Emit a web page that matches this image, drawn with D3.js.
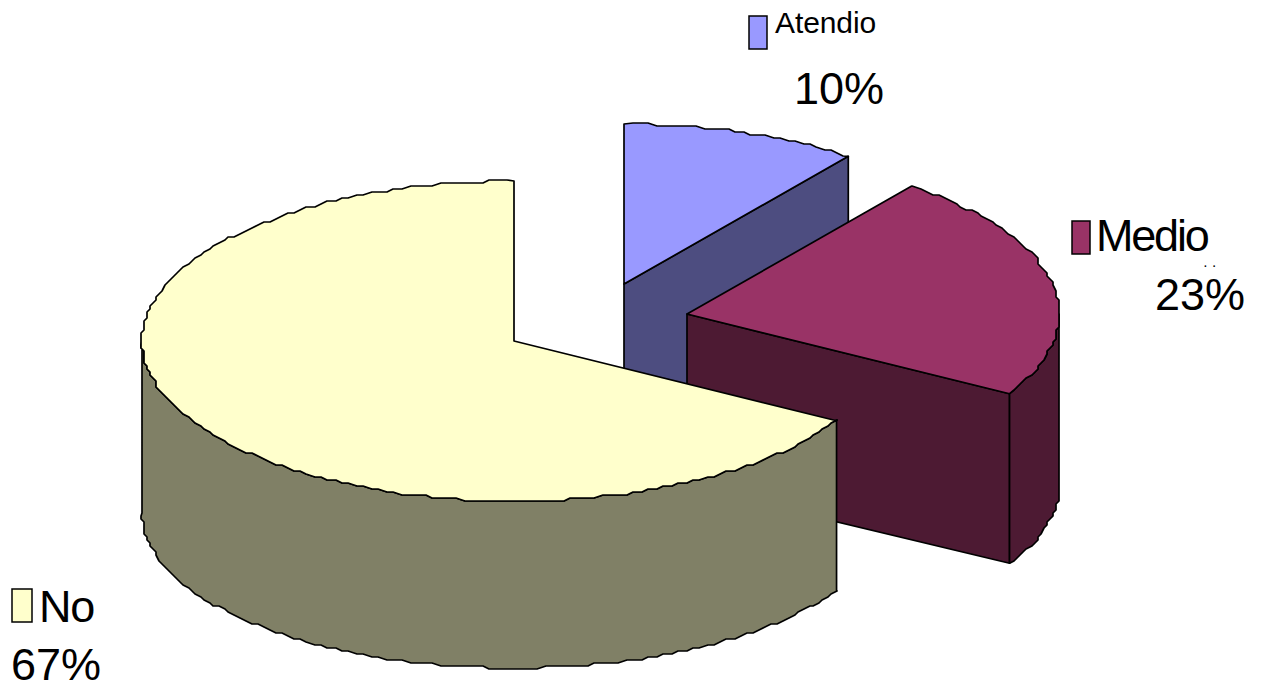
<!DOCTYPE html>
<html><head><meta charset="utf-8">
<script src="https://cdn.jsdelivr.net/npm/d3@7/dist/d3.min.js"></script>
<style>html,body{margin:0;padding:0;background:#fff}svg{display:block}text{font-family:"Liberation Sans",Arial,sans-serif;fill:#000}</style>
</head><body><svg id="c" width="1265" height="690"></svg>
<script>
const categories = ["Atendio","Medio","No"];
const values = [10.3, 23, 66.7];
const percentLabels = ["10%","23%","67%"];
const topColors = ["#9999ff","#993366","#ffffcc"];
const sideColors = ["#4d4d80","#4d1a33","#808066"];
const centers = [[624,284],[687,314],[514,341]];
const legendBoxes = [[749,16,18,33],[1072,221,18,33],[12,589,20,33]];
const labelPos = [
  {name:[775,33,30,-0.1], pct:[794,104,45]},
  {name:[1096,251,45,-2.2], pct:[1155,310,45]},
  {name:[39,622,45,-1.2], pct:[11,680,45]}
];
const depth = 172;
const svg = d3.select("#c");
const xs = d3.scaleLinear().domain([-1,1]).range([-372,372]);
const ysTop = d3.scaleLinear().domain([-1,1]).range([160,-160]);
const ysBottom = d3.scaleLinear().domain([-1,1]).range([155+depth,-155+depth]);
const arcs = d3.pie().sort(null).startAngle(0).endAngle(2*Math.PI)(values);
const line = d3.line();
const step = Math.PI/144, grid = 3;
const exact = (c,a,ys) => [c[0]+xs(Math.sin(a)), c[1]+ys(Math.cos(a))];
function rim(i,a0,a1,ys){
  const c = centers[i], pts = [exact(c,a0,ys)];
  for(let k=Math.floor(a0/step)+1; k*step<a1; k++){
    const p = exact(c,k*step,ys);
    const q = [Math.round(p[0]/grid)*grid, Math.round(p[1]/grid)*grid];
    const l = pts[pts.length-1];
    if(l[0]!==q[0] || l[1]!==q[1]) pts.push(q);
  }
  pts.push(exact(c,a1,ys));
  return pts;
}
const style = (s,fill)=>s.attr("fill",fill).attr("stroke","#000").attr("stroke-width",1.7).attr("stroke-linejoin","round");
arcs.forEach((d,i)=>{
  const c = centers[i], g = svg.append("g");
  if(i<2){
    const r = exact(c,d.endAngle,ysTop), rb = exact(c,d.endAngle,ysBottom);
    style(g.append("path").attr("d",line([c,r,rb,[c[0],c[1]+depth]])+"Z"),sideColors[i]);
  }
  const a0 = Math.max(d.startAngle,Math.PI/2), a1 = Math.min(d.endAngle,3*Math.PI/2);
  if(a1>a0){
    const r = rim(i,a0,a1,ysTop), rb = rim(i,a0,a1,ysBottom);
    style(g.append("path").attr("d",line(r.concat(rb.reverse()))+"Z"),sideColors[i]);
  }
  const t = rim(i,d.startAngle,d.endAngle,ysTop);
  style(g.append("path").attr("d",line([c].concat(t))+"Z"),topColors[i]);
});
categories.forEach((name,i)=>{
  const b = legendBoxes[i], l = labelPos[i];
  svg.append("rect").attr("x",b[0]).attr("y",b[1]).attr("width",b[2]).attr("height",b[3])
    .attr("fill",topColors[i]).attr("stroke","#000").attr("stroke-width",1.5);
  svg.append("text").attr("x",l.name[0]).attr("y",l.name[1]).attr("font-size",l.name[2]).attr("letter-spacing",l.name[3]).text(name);
  svg.append("text").attr("x",l.pct[0]).attr("y",l.pct[1]).attr("font-size",l.pct[2]).text(percentLabels[i]);
});
svg.append("text").attr("x",1204).attr("y",267).attr("font-size",10).attr("font-weight","bold").attr("letter-spacing",6).text("..");
</script></body></html>
